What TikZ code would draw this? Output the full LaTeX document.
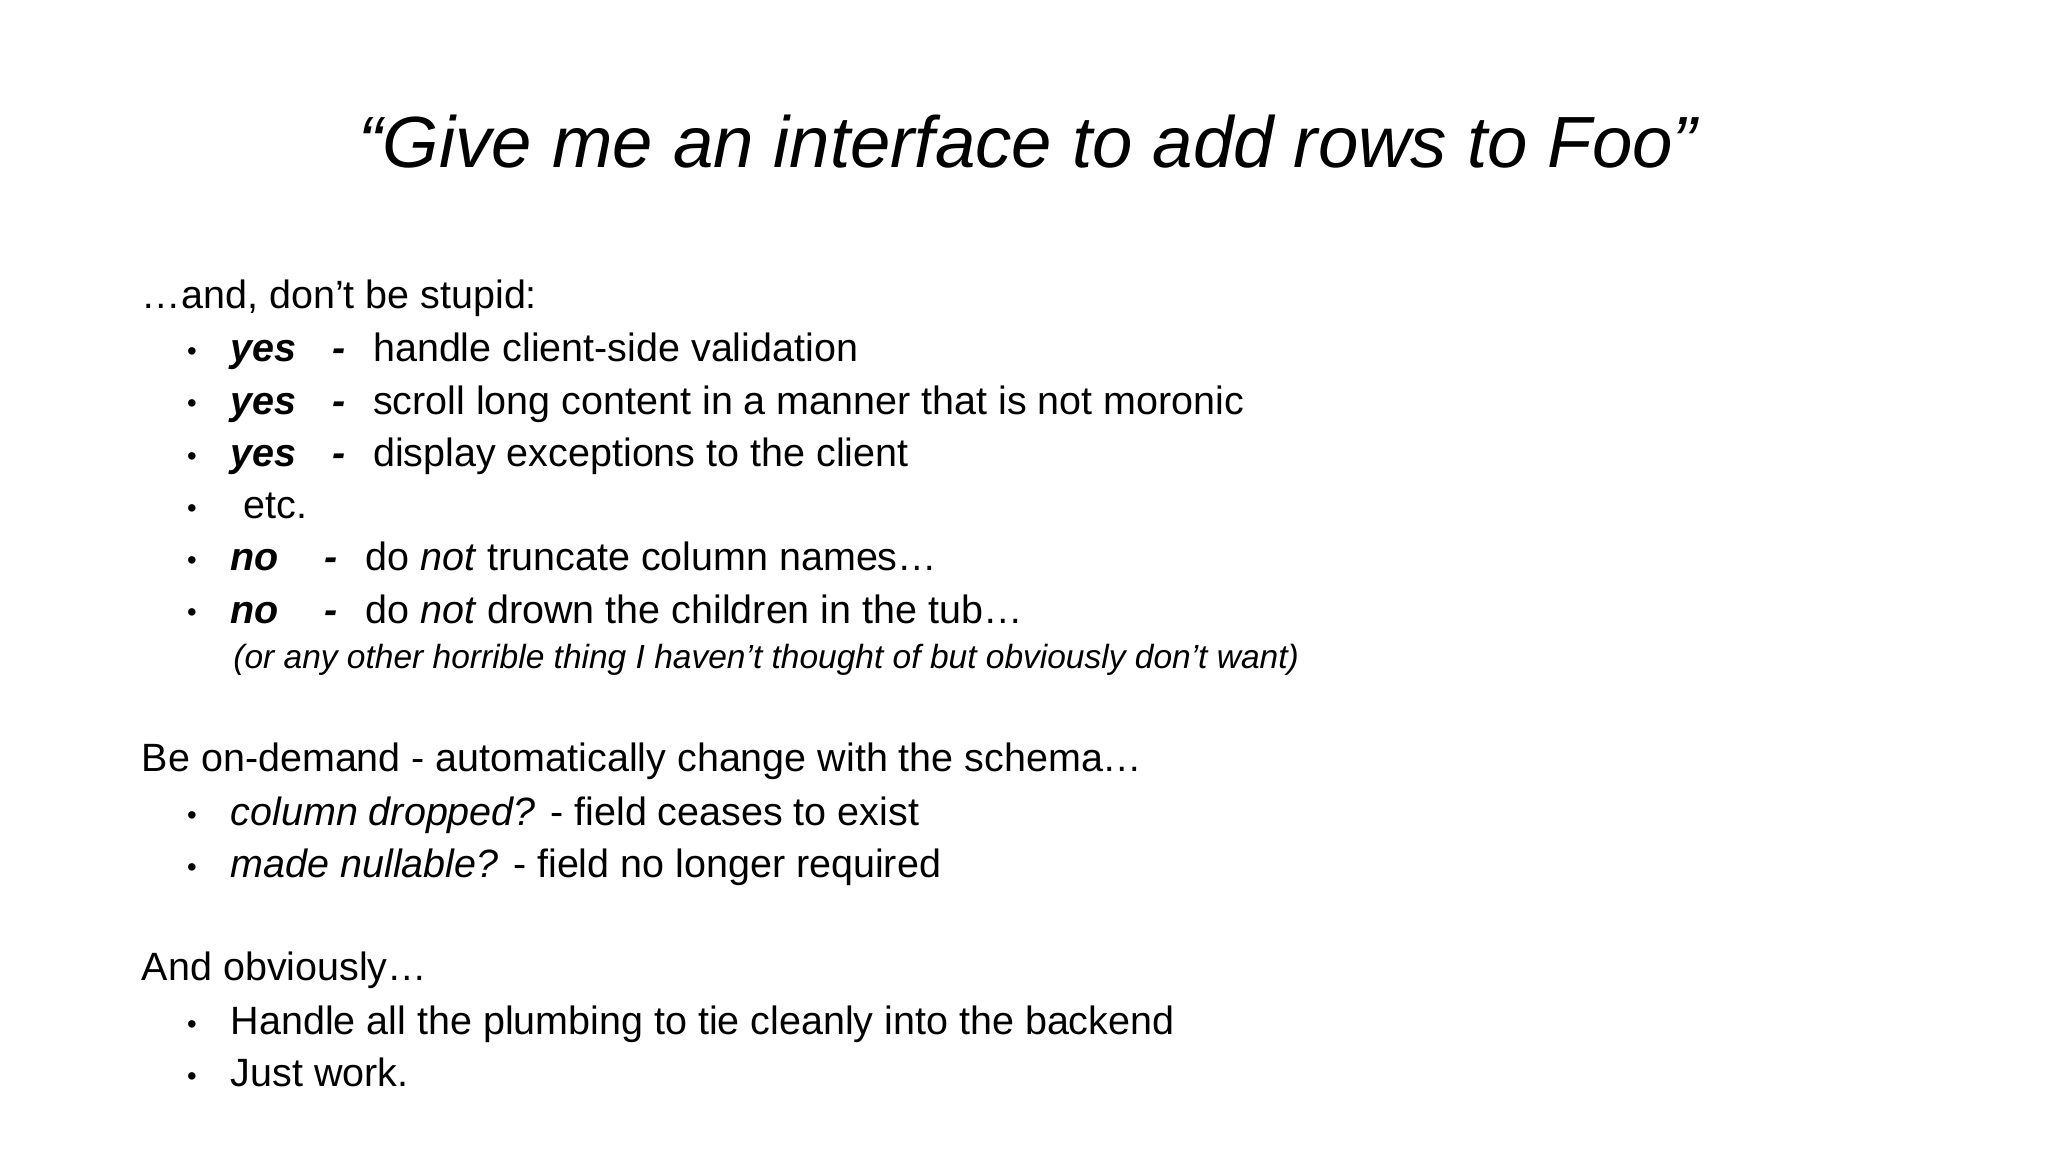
\documentclass[tikz,border=0pt]{standalone}
\usepackage{fontspec}
\setmainfont{Liberation Sans}
\begin{document}
\begin{tikzpicture}[x=1cm,y=1cm,
  t/.style={anchor=base west,inner sep=0pt,font=\fontsize{8.6pt}{10pt}\selectfont},
  sm/.style={anchor=base west,inner sep=0pt,font=\fontsize{7.3pt}{9pt}\selectfont\itshape},
  bul/.style={anchor=base,inner sep=0pt,font=\fontsize{6pt}{7pt}\selectfont}]
\useasboundingbox (0,0) rectangle (15.68,-8.82);
\node[anchor=base,inner sep=0pt,font=\fontsize{15.8pt}{18pt}\selectfont\itshape] (title) at (7.87,-1.28) {“Give me an interface to add rows to Foo”};
\node[t] (l1) at (1.08,-2.36) {…and, don’t be stupid:};
\foreach \y/\n in {2.77/a,3.17/b,3.57/c,3.97/d,4.37/e,4.77/f,6.32/g,6.72/h,7.92/i,8.32/j}
  \node[bul] (b\n) at (1.47,-\y+0.01) {•};
\node[t,font=\fontsize{8.6pt}{10pt}\selectfont\bfseries\itshape] (y1) at (1.76,-2.77) {yes};
\node[t,font=\fontsize{8.6pt}{10pt}\selectfont\bfseries\itshape] (d1) at (2.54,-2.77) {-};
\node[t] (x1) at (2.85,-2.77) {handle client-side validation};
\node[t,font=\fontsize{8.6pt}{10pt}\selectfont\bfseries\itshape] (y2) at (1.76,-3.17) {yes};
\node[t,font=\fontsize{8.6pt}{10pt}\selectfont\bfseries\itshape] (d2) at (2.54,-3.17) {-};
\node[t] (x2) at (2.85,-3.17) {scroll long content in a manner that is not moronic};
\node[t,font=\fontsize{8.6pt}{10pt}\selectfont\bfseries\itshape] (y3) at (1.76,-3.57) {yes};
\node[t,font=\fontsize{8.6pt}{10pt}\selectfont\bfseries\itshape] (d3) at (2.54,-3.57) {-};
\node[t] (x3) at (2.85,-3.57) {display exceptions to the client};
\node[t] (x4) at (1.86,-3.97) {etc.};
\node[t,font=\fontsize{8.6pt}{10pt}\selectfont\bfseries\itshape] (n1) at (1.76,-4.37) {no};
\node[t,font=\fontsize{8.6pt}{10pt}\selectfont\bfseries\itshape] (e1) at (2.48,-4.37) {-};
\node[t] (x5) at (2.79,-4.37) {do \textit{not} truncate column names…};
\node[t,font=\fontsize{8.6pt}{10pt}\selectfont\bfseries\itshape] (n2) at (1.76,-4.77) {no};
\node[t,font=\fontsize{8.6pt}{10pt}\selectfont\bfseries\itshape] (e2) at (2.48,-4.77) {-};
\node[t] (x6) at (2.79,-4.77) {do \textit{not} drown the children in the tub…};
\node[sm] (p) at (1.78,-5.12) {(or any other horrible thing I haven’t thought of but obviously don’t want)};
\node[t] (l2) at (1.08,-5.91) {Be on-demand - automatically change with the schema…};
\node[t] (x7) at (1.76,-6.32) {\textit{column dropped?} - field ceases to exist};
\node[t] (x8) at (1.76,-6.72) {\textit{made nullable?} - field no longer required};
\node[t] (l3) at (1.08,-7.51) {And obviously…};
\node[t] (x9) at (1.76,-7.92) {Handle all the plumbing to tie cleanly into the backend};
\node[t] (x10) at (1.76,-8.32) {Just work.};
\end{tikzpicture}
\end{document}
